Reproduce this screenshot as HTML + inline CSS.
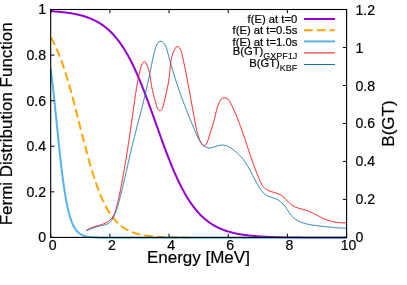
<!DOCTYPE html>
<html><head><meta charset="utf-8"><style>
html,body{margin:0;padding:0;background:#fff;}
svg{display:block;will-change:transform;font-family:"Liberation Sans",sans-serif;fill:#000;}
path{fill:none;stroke-linejoin:round;}
text{stroke:#000;stroke-width:0.2px;}
</style></head><body>
<svg width="407" height="285" viewBox="0 0 407 285">
<rect width="407" height="285" fill="#fff"/>
<path d="M50.70,11.15 L51.44,11.20 L52.18,11.25 L52.92,11.30 L53.67,11.35 L54.41,11.40 L55.15,11.46 L55.89,11.52 L56.63,11.58 L57.37,11.64 L58.12,11.70 L58.86,11.77 L59.60,11.84 L60.34,11.91 L61.08,11.99 L61.82,12.06 L62.57,12.14 L63.31,12.22 L64.05,12.31 L64.79,12.40 L65.53,12.49 L66.27,12.59 L67.02,12.69 L67.76,12.79 L68.50,12.89 L69.24,13.00 L69.98,13.12 L70.72,13.24 L71.46,13.36 L72.21,13.49 L72.95,13.62 L73.69,13.75 L74.43,13.89 L75.17,14.04 L75.91,14.19 L76.66,14.35 L77.40,14.51 L78.14,14.68 L78.88,14.85 L79.62,15.03 L80.36,15.22 L81.11,15.41 L81.85,15.62 L82.59,15.82 L83.33,16.04 L84.07,16.26 L84.81,16.49 L85.56,16.73 L86.30,16.97 L87.04,17.23 L87.78,17.49 L88.52,17.77 L89.26,18.05 L90.01,18.34 L90.75,18.64 L91.49,18.96 L92.23,19.28 L92.97,19.62 L93.71,19.96 L94.45,20.32 L95.20,20.69 L95.94,21.07 L96.68,21.47 L97.42,21.88 L98.16,22.30 L98.90,22.73 L99.65,23.18 L100.39,23.65 L101.13,24.13 L101.87,24.63 L102.61,25.14 L103.35,25.67 L104.10,26.21 L104.84,26.77 L105.58,27.36 L106.32,27.95 L107.06,28.57 L107.80,29.21 L108.55,29.87 L109.29,30.54 L110.03,31.24 L110.77,31.96 L111.51,32.70 L112.25,33.46 L112.99,34.24 L113.74,35.05 L114.48,35.88 L115.22,36.73 L115.96,37.61 L116.70,38.52 L117.44,39.44 L118.19,40.40 L118.93,41.38 L119.67,42.38 L120.41,43.42 L121.15,44.48 L121.89,45.56 L122.64,46.68 L123.38,47.82 L124.12,48.99 L124.86,50.19 L125.60,51.42 L126.34,52.67 L127.09,53.96 L127.83,55.27 L128.57,56.62 L129.31,57.99 L130.05,59.40 L130.79,60.83 L131.53,62.29 L132.28,63.78 L133.02,65.30 L133.76,66.85 L134.50,68.43 L135.24,70.03 L135.98,71.66 L136.73,73.33 L137.47,75.01 L138.21,76.73 L138.95,78.47 L139.69,80.24 L140.43,82.03 L141.18,83.84 L141.92,85.68 L142.66,87.54 L143.40,89.43 L144.14,91.33 L144.88,93.26 L145.63,95.20 L146.37,97.16 L147.11,99.14 L147.85,101.14 L148.59,103.14 L149.33,105.17 L150.07,107.20 L150.82,109.25 L151.56,111.30 L152.30,113.37 L153.04,115.44 L153.78,117.51 L154.52,119.59 L155.27,121.67 L156.01,123.76 L156.75,125.84 L157.49,127.93 L158.23,130.01 L158.97,132.08 L159.72,134.15 L160.46,136.22 L161.20,138.27 L161.94,140.32 L162.68,142.35 L163.42,144.38 L164.17,146.39 L164.91,148.38 L165.65,150.36 L166.39,152.33 L167.13,154.27 L167.87,156.20 L168.62,158.10 L169.36,159.99 L170.10,161.85 L170.84,163.70 L171.58,165.51 L172.32,167.31 L173.06,169.08 L173.81,170.82 L174.55,172.54 L175.29,174.23 L176.03,175.89 L176.77,177.53 L177.51,179.13 L178.26,180.71 L179.00,182.27 L179.74,183.79 L180.48,185.28 L181.22,186.75 L181.96,188.18 L182.71,189.59 L183.45,190.96 L184.19,192.31 L184.93,193.63 L185.67,194.91 L186.41,196.17 L187.16,197.40 L187.90,198.61 L188.64,199.78 L189.38,200.92 L190.12,202.04 L190.86,203.13 L191.60,204.19 L192.35,205.23 L193.09,206.24 L193.83,207.22 L194.57,208.17 L195.31,209.10 L196.05,210.01 L196.80,210.89 L197.54,211.75 L198.28,212.58 L199.02,213.39 L199.76,214.17 L200.50,214.94 L201.25,215.68 L201.99,216.40 L202.73,217.10 L203.47,217.78 L204.21,218.43 L204.95,219.07 L205.70,219.69 L206.44,220.29 L207.18,220.88 L207.92,221.44 L208.66,221.99 L209.40,222.52 L210.14,223.03 L210.89,223.53 L211.63,224.01 L212.37,224.48 L213.11,224.93 L213.85,225.36 L214.59,225.79 L215.34,226.20 L216.08,226.59 L216.82,226.98 L217.56,227.35 L218.30,227.71 L219.04,228.05 L219.79,228.39 L220.53,228.71 L221.27,229.03 L222.01,229.33 L222.75,229.62 L223.49,229.91 L224.24,230.18 L224.98,230.45 L225.72,230.70 L226.46,230.95 L227.20,231.19 L227.94,231.42 L228.68,231.64 L229.43,231.86 L230.17,232.07 L230.91,232.27 L231.65,232.46 L232.39,232.65 L233.13,232.83 L233.88,233.01 L234.62,233.17 L235.36,233.34 L236.10,233.49 L236.84,233.65 L237.58,233.79 L238.33,233.93 L239.07,234.07 L239.81,234.20 L240.55,234.33 L241.29,234.45 L242.03,234.57 L242.78,234.69 L243.52,234.80 L244.26,234.90 L245.00,235.01 L245.74,235.10 L246.48,235.20 L247.23,235.29 L247.97,235.38 L248.71,235.47 L249.45,235.55 L250.19,235.63 L250.93,235.71 L251.67,235.78 L252.42,235.85 L253.16,235.92 L253.90,235.99 L254.64,236.06 L255.38,236.12 L256.12,236.18 L256.87,236.24 L257.61,236.29 L258.35,236.35 L259.09,236.40 L259.83,236.45 L260.57,236.50 L261.32,236.54 L262.06,236.59 L262.80,236.63 L263.54,236.67 L264.28,236.71 L265.02,236.75 L265.77,236.79 L266.51,236.83 L267.25,236.86 L267.99,236.89 L268.73,236.93 L269.47,236.96 L270.21,236.99 L270.96,237.02 L271.70,237.04 L272.44,237.07 L273.18,237.10 L273.92,237.12 L274.66,237.15 L275.41,237.17 L276.15,237.19 L276.89,237.21 L277.63,237.24 L278.37,237.26 L279.11,237.28 L279.86,237.29 L280.60,237.31 L281.34,237.33 L282.08,237.35 L282.82,237.36 L283.56,237.38 L284.31,237.39 L285.05,237.41 L285.79,237.42 L286.53,237.44 L287.27,237.45 L288.01,237.46 L288.75,237.47 L289.50,237.49 L290.24,237.50 L290.98,237.51 L291.72,237.52 L292.46,237.53 L293.20,237.54 L293.95,237.55 L294.69,237.56 L295.43,237.57 L296.17,237.57 L296.91,237.58 L297.65,237.59 L298.40,237.60 L299.14,237.60 L299.88,237.61 L300.62,237.62 L301.36,237.62 L302.10,237.63 L302.85,237.64 L303.59,237.64 L304.33,237.65 L305.07,237.65 L305.81,237.66 L306.55,237.66 L307.29,237.67 L308.04,237.67 L308.78,237.68 L309.52,237.68 L310.26,237.69 L311.00,237.69 L311.74,237.69 L312.49,237.70 L313.23,237.70 L313.97,237.71 L314.71,237.71 L315.45,237.71 L316.19,237.72 L316.94,237.72 L317.68,237.72 L318.42,237.72 L319.16,237.73 L319.90,237.73 L320.64,237.73 L321.39,237.73 L322.13,237.74 L322.87,237.74 L323.61,237.74 L324.35,237.74 L325.09,237.75 L325.84,237.75 L326.58,237.75 L327.32,237.75 L328.06,237.75 L328.80,237.75 L329.54,237.76 L330.28,237.76 L331.03,237.76 L331.77,237.76 L332.51,237.76 L333.25,237.76 L333.99,237.76 L334.73,237.77 L335.48,237.77 L336.22,237.77 L336.96,237.77 L337.70,237.77 L338.44,237.77 L339.18,237.77 L339.93,237.77 L340.67,237.77 L341.41,237.78 L342.15,237.78 L342.89,237.78 L343.63,237.78 L344.38,237.78 L345.12,237.78 L345.86,237.78 L346.60,237.78" stroke="#9400d3" stroke-width="2"/>
<path d="M50.70,37.26 L51.44,38.53 L52.18,39.84 L52.92,41.20 L53.67,42.62 L54.41,44.09 L55.15,45.61 L55.89,47.19 L56.63,48.82 L57.37,50.51 L58.12,52.26 L58.86,54.06 L59.60,55.92 L60.34,57.84 L61.08,59.82 L61.82,61.85 L62.57,63.95 L63.31,66.10 L64.05,68.30 L64.79,70.57 L65.53,72.89 L66.27,75.26 L67.02,77.68 L67.76,80.16 L68.50,82.68 L69.24,85.26 L69.98,87.88 L70.72,90.54 L71.46,93.24 L72.21,95.98 L72.95,98.75 L73.69,101.56 L74.43,104.39 L75.17,107.25 L75.91,110.13 L76.66,113.03 L77.40,115.94 L78.14,118.86 L78.88,121.79 L79.62,124.72 L80.36,127.65 L81.11,130.58 L81.85,133.49 L82.59,136.40 L83.33,139.29 L84.07,142.15 L84.81,145.00 L85.56,147.81 L86.30,150.60 L87.04,153.35 L87.78,156.07 L88.52,158.75 L89.26,161.39 L90.01,163.98 L90.75,166.52 L91.49,169.02 L92.23,171.46 L92.97,173.86 L93.71,176.20 L94.45,178.48 L95.20,180.71 L95.94,182.89 L96.68,185.00 L97.42,187.06 L98.16,189.06 L98.90,191.01 L99.65,192.89 L100.39,194.72 L101.13,196.49 L101.87,198.20 L102.61,199.85 L103.35,201.45 L104.10,203.00 L104.84,204.49 L105.58,205.93 L106.32,207.31 L107.06,208.65 L107.80,209.93 L108.55,211.16 L109.29,212.35 L110.03,213.49 L110.77,214.59 L111.51,215.64 L112.25,216.65 L112.99,217.61 L113.74,218.54 L114.48,219.43 L115.22,220.28 L115.96,221.09 L116.70,221.87 L117.44,222.62 L118.19,223.33 L118.93,224.01 L119.67,224.67 L120.41,225.29 L121.15,225.88 L121.89,226.45 L122.64,226.99 L123.38,227.51 L124.12,228.00 L124.86,228.48 L125.60,228.93 L126.34,229.35 L127.09,229.76 L127.83,230.15 L128.57,230.52 L129.31,230.88 L130.05,231.22 L130.79,231.54 L131.53,231.84 L132.28,232.13 L133.02,232.41 L133.76,232.68 L134.50,232.93 L135.24,233.17 L135.98,233.39 L136.73,233.61 L137.47,233.82 L138.21,234.01 L138.95,234.20 L139.69,234.38 L140.43,234.55 L141.18,234.71 L141.92,234.86 L142.66,235.01 L143.40,235.15 L144.14,235.28 L144.88,235.40 L145.63,235.52 L146.37,235.64 L147.11,235.74 L147.85,235.85 L148.59,235.94 L149.33,236.03 L150.07,236.12 L150.82,236.21 L151.56,236.29 L152.30,236.36 L153.04,236.43 L153.78,236.50 L154.52,236.57 L155.27,236.63 L156.01,236.69 L156.75,236.74 L157.49,236.79 L158.23,236.84 L158.97,236.89 L159.72,236.94 L160.46,236.98 L161.20,237.02 L161.94,237.06 L162.68,237.10 L163.42,237.13 L164.17,237.17 L164.91,237.20 L165.65,237.23 L166.39,237.26 L167.13,237.28 L167.87,237.31 L168.62,237.33 L169.36,237.36 L170.10,237.38 L170.84,237.40 L171.58,237.42 L172.32,237.44 L173.06,237.46 L173.81,237.47 L174.55,237.49 L175.29,237.51 L176.03,237.52 L176.77,237.54 L177.51,237.55 L178.26,237.56 L179.00,237.57 L179.74,237.58 L180.48,237.60 L181.22,237.61 L181.96,237.62 L182.71,237.62 L183.45,237.63 L184.19,237.64 L184.93,237.65 L185.67,237.66 L186.41,237.66 L187.16,237.67 L187.90,237.68 L188.64,237.68 L189.38,237.69" stroke="#ffa500" stroke-width="2" stroke-dasharray="8.7 4.0"/>
<path d="M50.70,68.92 L51.44,74.71 L52.18,80.84 L52.92,87.26 L53.67,93.96 L54.41,100.89 L55.15,107.99 L55.89,115.23 L56.63,122.54 L57.37,129.85 L58.12,137.12 L58.86,144.28 L59.60,151.28 L60.34,158.06 L61.08,164.59 L61.82,170.82 L62.57,176.74 L63.31,182.31 L64.05,187.53 L64.79,192.38 L65.53,196.88 L66.27,201.01 L67.02,204.81 L67.76,208.27 L68.50,211.42 L69.24,214.27 L69.98,216.85 L70.72,219.17 L71.46,221.26 L72.21,223.12 L72.95,224.79 L73.69,226.28 L74.43,227.61 L75.17,228.79 L75.91,229.84 L76.66,230.77 L77.40,231.59 L78.14,232.32 L78.88,232.97 L79.62,233.54 L80.36,234.05 L81.11,234.49 L81.85,234.89 L82.59,235.23 L83.33,235.54 L84.07,235.81 L84.81,236.05 L85.56,236.26 L86.30,236.44 L87.04,236.61 L87.78,236.75 L88.52,236.88 L89.26,236.99 L90.01,237.08 L90.75,237.17 L91.49,237.25 L92.23,237.31 L92.97,237.37 L93.71,237.42 L94.45,237.47 L95.20,237.51 L95.94,237.54 L96.68,237.57 L97.42,237.60 L98.16,237.63 L98.90,237.65 L99.65,237.67 L100.39,237.68 L101.13,237.70 L101.87,237.71 L102.61,237.72 L103.35,237.73 L104.10,237.74 L104.84,237.75 L105.58,237.75 L106.32,237.76 L107.06,237.76 L107.80,237.77 L108.55,237.77 L109.29,237.77 L110.03,237.78 L110.77,237.78 L111.51,237.78 L112.25,237.78 L112.99,237.79 L113.74,237.79 L114.48,237.79 L115.22,237.79 L115.96,237.79 L116.70,237.79 L117.44,237.79 L118.19,237.79 L118.93,237.80 L119.67,237.80 L120.41,237.80 L121.15,237.80 L121.89,237.80 L122.64,237.80 L123.38,237.80 L124.12,237.80 L124.86,237.80 L125.60,237.80 L126.34,237.80 L127.09,237.80 L127.83,237.80 L128.57,237.80 L129.31,237.80 L130.05,237.80 L130.79,237.80 L131.53,237.80 L132.28,237.80 L133.02,237.80 L133.76,237.80 L134.50,237.80 L135.24,237.80 L135.98,237.80 L136.73,237.80 L137.47,237.80 L138.21,237.80 L138.95,237.80 L139.69,237.80 L140.43,237.80 L141.18,237.80 L141.92,237.80 L142.66,237.80 L143.40,237.80 L144.14,237.80 L144.88,237.80 L145.63,237.80 L146.37,237.80 L147.11,237.80 L147.85,237.80 L148.59,237.80 L149.33,237.80 L150.07,237.80 L150.82,237.80 L151.56,237.80 L152.30,237.80 L153.04,237.80 L153.78,237.80 L154.52,237.80 L155.27,237.80 L156.01,237.80 L156.75,237.80 L157.49,237.80 L158.23,237.80 L158.97,237.80 L159.72,237.80 L160.46,237.80 L161.20,237.80 L161.94,237.80 L162.68,237.80 L163.42,237.80 L164.17,237.80 L164.91,237.80 L165.65,237.80 L166.39,237.80 L167.13,237.80 L167.87,237.80 L168.62,237.80 L169.36,237.80 L170.10,237.80 L170.84,237.80 L171.58,237.80 L172.32,237.80 L173.06,237.80 L173.81,237.80 L174.55,237.80 L175.29,237.80 L176.03,237.80 L176.77,237.80 L177.51,237.80 L178.26,237.80 L179.00,237.80 L179.74,237.80 L180.48,237.80 L181.22,237.80 L181.96,237.80 L182.71,237.80 L183.45,237.80 L184.19,237.80 L184.93,237.80 L185.67,237.80 L186.41,237.80 L187.16,237.80 L187.90,237.80 L188.64,237.80 L189.38,237.80 L190.12,237.80 L190.86,237.80 L191.60,237.80 L192.35,237.80 L193.09,237.80 L193.83,237.80 L194.57,237.80 L195.31,237.80 L196.05,237.80 L196.80,237.80 L197.54,237.80 L198.28,237.80 L199.02,237.80 L199.76,237.80 L200.50,237.80 L201.25,237.80 L201.99,237.80 L202.73,237.80 L203.47,237.80 L204.21,237.80 L204.95,237.80 L205.70,237.80 L206.44,237.80 L207.18,237.80 L207.92,237.80 L208.66,237.80 L209.40,237.80 L210.14,237.80 L210.89,237.80 L211.63,237.80 L212.37,237.80 L213.11,237.80 L213.85,237.80 L214.59,237.80 L215.34,237.80 L216.08,237.80 L216.82,237.80 L217.56,237.80 L218.30,237.80 L219.04,237.80 L219.79,237.80 L220.53,237.80 L221.27,237.80 L222.01,237.80 L222.75,237.80 L223.49,237.80 L224.24,237.80 L224.98,237.80 L225.72,237.80 L226.46,237.80 L227.20,237.80 L227.94,237.80 L228.68,237.80 L229.43,237.80 L230.17,237.80 L230.91,237.80 L231.65,237.80 L232.39,237.80 L233.13,237.80 L233.88,237.80 L234.62,237.80 L235.36,237.80 L236.10,237.80 L236.84,237.80 L237.58,237.80 L238.33,237.80 L239.07,237.80 L239.81,237.80 L240.55,237.80 L241.29,237.80 L242.03,237.80 L242.78,237.80 L243.52,237.80 L244.26,237.80 L245.00,237.80 L245.74,237.80 L246.48,237.80 L247.23,237.80 L247.97,237.80 L248.71,237.80 L249.45,237.80 L250.19,237.80 L250.93,237.80 L251.67,237.80 L252.42,237.80 L253.16,237.80 L253.90,237.80 L254.64,237.80 L255.38,237.80 L256.12,237.80 L256.87,237.80 L257.61,237.80 L258.35,237.80 L259.09,237.80 L259.83,237.80 L260.57,237.80 L261.32,237.80 L262.06,237.80 L262.80,237.80 L263.54,237.80 L264.28,237.80 L265.02,237.80 L265.77,237.80 L266.51,237.80 L267.25,237.80 L267.99,237.80 L268.73,237.80 L269.47,237.80 L270.21,237.80 L270.96,237.80 L271.70,237.80 L272.44,237.80 L273.18,237.80 L273.92,237.80 L274.66,237.80 L275.41,237.80 L276.15,237.80 L276.89,237.80 L277.63,237.80 L278.37,237.80 L279.11,237.80 L279.86,237.80 L280.60,237.80 L281.34,237.80 L282.08,237.80 L282.82,237.80 L283.56,237.80 L284.31,237.80 L285.05,237.80 L285.79,237.80 L286.53,237.80 L287.27,237.80 L288.01,237.80 L288.75,237.80 L289.50,237.80 L290.24,237.80 L290.98,237.80 L291.72,237.80 L292.46,237.80 L293.20,237.80 L293.95,237.80 L294.69,237.80 L295.43,237.80 L296.17,237.80 L296.91,237.80 L297.65,237.80 L298.40,237.80 L299.14,237.80 L299.88,237.80 L300.62,237.80 L301.36,237.80 L302.10,237.80 L302.85,237.80 L303.59,237.80 L304.33,237.80 L305.07,237.80 L305.81,237.80 L306.55,237.80 L307.29,237.80 L308.04,237.80 L308.78,237.80 L309.52,237.80 L310.26,237.80 L311.00,237.80 L311.74,237.80 L312.49,237.80 L313.23,237.80 L313.97,237.80 L314.71,237.80 L315.45,237.80 L316.19,237.80 L316.94,237.80 L317.68,237.80 L318.42,237.80 L319.16,237.80 L319.90,237.80 L320.64,237.80 L321.39,237.80 L322.13,237.80 L322.87,237.80 L323.61,237.80 L324.35,237.80 L325.09,237.80 L325.84,237.80 L326.58,237.80 L327.32,237.80 L328.06,237.80 L328.80,237.80 L329.54,237.80 L330.28,237.80 L331.03,237.80 L331.77,237.80 L332.51,237.80 L333.25,237.80 L333.99,237.80 L334.73,237.80 L335.48,237.80 L336.22,237.80 L336.96,237.80 L337.70,237.80 L338.44,237.80 L339.18,237.80 L339.93,237.80 L340.67,237.80 L341.41,237.80 L342.15,237.80 L342.89,237.80 L343.63,237.80 L344.38,237.80 L345.12,237.80 L345.86,237.80 L346.60,237.80" stroke="#56b4e9" stroke-width="2"/>
<path d="M86.21,230.46 L86.85,230.03 L87.50,229.62 L88.15,229.25 L88.81,228.89 L89.47,228.57 L90.13,228.26 L90.80,227.97 L91.48,227.70 L92.16,227.45 L92.84,227.21 L93.52,226.98 L94.21,226.76 L94.91,226.55 L95.60,226.34 L96.30,226.14 L97.01,225.94 L97.72,225.74 L98.43,225.54 L99.14,225.34 L99.85,225.13 L100.57,224.91 L101.29,224.69 L102.00,224.45 L102.71,224.21 L103.42,223.95 L104.11,223.68 L104.80,223.40 L105.47,223.10 L106.14,222.78 L106.79,222.45 L107.42,222.09 L108.03,221.72 L108.62,221.32 L109.19,220.91 L109.74,220.47 L110.26,220.00 L110.76,219.51 L111.23,218.99 L111.67,218.45 L112.10,217.89 L112.50,217.31 L112.87,216.70 L113.23,216.08 L113.57,215.45 L113.90,214.80 L114.20,214.13 L114.49,213.45 L114.77,212.76 L115.03,212.06 L115.28,211.35 L115.52,210.63 L115.75,209.91 L115.97,209.18 L116.18,208.44 L116.38,207.71 L116.58,206.97 L116.77,206.23 L116.96,205.49 L117.15,204.76 L117.33,204.02 L117.51,203.29 L117.69,202.56 L117.86,201.83 L118.04,201.10 L118.21,200.38 L118.37,199.65 L118.54,198.93 L118.70,198.21 L118.86,197.49 L119.02,196.77 L119.18,196.05 L119.34,195.33 L119.49,194.61 L119.64,193.90 L119.79,193.18 L119.94,192.47 L120.09,191.75 L120.23,191.04 L120.38,190.32 L120.52,189.61 L120.67,188.89 L120.81,188.18 L120.95,187.46 L121.09,186.75 L121.23,186.04 L121.36,185.32 L121.50,184.60 L121.64,183.89 L121.78,183.17 L121.91,182.46 L122.05,181.74 L122.18,181.02 L122.31,180.30 L122.45,179.59 L122.58,178.87 L122.71,178.15 L122.84,177.43 L122.98,176.71 L123.11,175.99 L123.24,175.27 L123.37,174.55 L123.49,173.83 L123.62,173.11 L123.75,172.38 L123.88,171.66 L124.00,170.94 L124.13,170.22 L124.26,169.49 L124.38,168.77 L124.51,168.05 L124.63,167.32 L124.75,166.60 L124.88,165.88 L125.00,165.15 L125.12,164.43 L125.24,163.70 L125.36,162.98 L125.49,162.25 L125.61,161.53 L125.73,160.80 L125.85,160.07 L125.96,159.35 L126.08,158.62 L126.20,157.89 L126.32,157.17 L126.44,156.44 L126.55,155.71 L126.67,154.99 L126.79,154.26 L126.90,153.53 L127.02,152.80 L127.13,152.07 L127.25,151.35 L127.36,150.62 L127.47,149.89 L127.59,149.16 L127.70,148.43 L127.81,147.70 L127.93,146.97 L128.04,146.24 L128.15,145.51 L128.26,144.79 L128.37,144.06 L128.48,143.33 L128.59,142.60 L128.70,141.87 L128.81,141.14 L128.92,140.41 L129.03,139.68 L129.14,138.95 L129.25,138.22 L129.36,137.49 L129.47,136.76 L129.58,136.03 L129.68,135.30 L129.79,134.57 L129.90,133.84 L130.01,133.11 L130.11,132.38 L130.22,131.65 L130.33,130.92 L130.43,130.19 L130.54,129.45 L130.64,128.72 L130.75,127.99 L130.85,127.26 L130.96,126.53 L131.06,125.80 L131.17,125.07 L131.27,124.34 L131.38,123.61 L131.48,122.88 L131.59,122.16 L131.69,121.43 L131.79,120.70 L131.90,119.97 L132.00,119.24 L132.10,118.51 L132.21,117.78 L132.31,117.05 L132.41,116.32 L132.52,115.59 L132.62,114.86 L132.72,114.14 L132.82,113.41 L132.93,112.68 L133.03,111.95 L133.13,111.22 L133.23,110.50 L133.34,109.77 L133.44,109.04 L133.54,108.31 L133.64,107.59 L133.74,106.86 L133.85,106.13 L133.95,105.41 L134.05,104.68 L134.15,103.95 L134.25,103.23 L134.36,102.50 L134.46,101.78 L134.56,101.05 L134.66,100.33 L134.77,99.60 L134.87,98.88 L134.97,98.15 L135.08,97.43 L135.18,96.71 L135.29,95.98 L135.40,95.26 L135.50,94.53 L135.61,93.81 L135.72,93.09 L135.83,92.36 L135.94,91.64 L136.05,90.92 L136.17,90.19 L136.28,89.47 L136.40,88.75 L136.52,88.02 L136.64,87.30 L136.76,86.58 L136.88,85.85 L137.01,85.13 L137.13,84.41 L137.26,83.68 L137.39,82.96 L137.52,82.24 L137.66,81.51 L137.79,80.79 L137.93,80.06 L138.07,79.34 L138.22,78.62 L138.36,77.89 L138.51,77.17 L138.66,76.44 L138.82,75.72 L138.97,74.99 L139.13,74.27 L139.29,73.54 L139.46,72.82 L139.63,72.09 L139.80,71.37 L139.97,70.64 L140.15,69.91 L140.33,69.19 L140.52,68.46 L140.70,67.73 L140.90,67.01 L141.12,66.29 L141.37,65.58 L141.66,64.88 L142.00,64.19 L142.40,63.53 L142.87,62.88 L143.39,62.30 L143.94,61.86 L144.47,61.64 L144.96,61.72 L145.39,62.07 L145.78,62.59 L146.14,63.23 L146.48,63.89 L146.80,64.56 L147.10,65.24 L147.38,65.92 L147.65,66.61 L147.90,67.30 L148.14,68.00 L148.36,68.70 L148.57,69.41 L148.77,70.13 L148.96,70.84 L149.13,71.56 L149.30,72.29 L149.46,73.01 L149.61,73.74 L149.75,74.48 L149.88,75.21 L150.01,75.94 L150.13,76.68 L150.25,77.42 L150.36,78.16 L150.48,78.89 L150.59,79.63 L150.70,80.37 L150.80,81.11 L150.91,81.84 L151.02,82.57 L151.13,83.31 L151.25,84.04 L151.36,84.76 L151.49,85.49 L151.61,86.21 L151.75,86.93 L151.89,87.64 L152.03,88.35 L152.18,89.06 L152.33,89.77 L152.49,90.47 L152.66,91.18 L152.82,91.88 L153.00,92.58 L153.17,93.28 L153.35,93.98 L153.53,94.68 L153.72,95.39 L153.91,96.09 L154.09,96.79 L154.29,97.50 L154.48,98.21 L154.67,98.92 L154.87,99.64 L155.07,100.36 L155.26,101.08 L155.46,101.80 L155.66,102.54 L155.86,103.27 L156.05,104.01 L156.25,104.76 L156.45,105.51 L156.66,106.26 L156.88,107.00 L157.14,107.71 L157.45,108.39 L157.80,109.04 L158.23,109.63 L158.71,110.14 L159.24,110.51 L159.81,110.68 L160.38,110.60 L160.93,110.30 L161.45,109.83 L161.91,109.27 L162.30,108.65 L162.61,107.99 L162.87,107.30 L163.09,106.58 L163.29,105.85 L163.46,105.11 L163.63,104.36 L163.80,103.62 L163.97,102.88 L164.14,102.15 L164.31,101.41 L164.48,100.68 L164.65,99.95 L164.83,99.23 L165.00,98.50 L165.17,97.77 L165.34,97.05 L165.51,96.33 L165.68,95.61 L165.85,94.89 L166.01,94.17 L166.18,93.45 L166.34,92.74 L166.51,92.02 L166.67,91.31 L166.82,90.59 L166.98,89.88 L167.14,89.16 L167.29,88.45 L167.44,87.74 L167.58,87.02 L167.73,86.31 L167.87,85.59 L168.01,84.88 L168.14,84.16 L168.27,83.45 L168.40,82.73 L168.52,82.01 L168.64,81.29 L168.76,80.57 L168.87,79.85 L168.98,79.13 L169.08,78.41 L169.18,77.68 L169.27,76.95 L169.36,76.23 L169.44,75.49 L169.52,74.76 L169.59,74.03 L169.66,73.29 L169.73,72.56 L169.79,71.82 L169.86,71.08 L169.92,70.35 L169.99,69.61 L170.05,68.87 L170.12,68.13 L170.18,67.39 L170.25,66.66 L170.33,65.92 L170.40,65.19 L170.49,64.45 L170.57,63.72 L170.67,62.99 L170.77,62.26 L170.87,61.54 L170.99,60.82 L171.12,60.10 L171.25,59.38 L171.39,58.66 L171.55,57.95 L171.71,57.25 L171.89,56.54 L172.08,55.84 L172.29,55.15 L172.51,54.46 L172.74,53.77 L173.00,53.08 L173.27,52.39 L173.56,51.69 L173.88,50.99 L174.21,50.28 L174.58,49.56 L174.97,48.83 L175.39,48.12 L175.84,47.47 L176.31,46.94 L176.82,46.60 L177.36,46.48 L177.92,46.63 L178.49,46.99 L179.05,47.51 L179.57,48.13 L180.03,48.79 L180.42,49.46 L180.76,50.15 L181.05,50.84 L181.30,51.54 L181.51,52.25 L181.71,52.96 L181.88,53.67 L182.04,54.39 L182.21,55.10 L182.37,55.82 L182.53,56.54 L182.69,57.26 L182.85,57.97 L183.01,58.69 L183.17,59.41 L183.32,60.13 L183.48,60.85 L183.63,61.57 L183.79,62.29 L183.94,63.01 L184.09,63.73 L184.24,64.45 L184.39,65.17 L184.54,65.89 L184.69,66.61 L184.84,67.33 L184.99,68.06 L185.14,68.78 L185.28,69.50 L185.43,70.22 L185.57,70.94 L185.72,71.67 L185.86,72.39 L186.00,73.11 L186.14,73.83 L186.29,74.56 L186.43,75.28 L186.57,76.00 L186.71,76.73 L186.85,77.45 L186.99,78.17 L187.12,78.90 L187.26,79.62 L187.40,80.34 L187.54,81.07 L187.67,81.79 L187.81,82.52 L187.95,83.24 L188.08,83.96 L188.22,84.69 L188.35,85.41 L188.48,86.13 L188.62,86.86 L188.75,87.58 L188.89,88.31 L189.02,89.03 L189.15,89.75 L189.28,90.48 L189.42,91.20 L189.55,91.92 L189.68,92.65 L189.81,93.37 L189.94,94.09 L190.07,94.82 L190.21,95.54 L190.34,96.26 L190.47,96.98 L190.60,97.71 L190.73,98.43 L190.86,99.15 L190.99,99.87 L191.12,100.59 L191.25,101.31 L191.38,102.04 L191.51,102.76 L191.64,103.48 L191.77,104.20 L191.91,104.92 L192.04,105.64 L192.17,106.36 L192.30,107.08 L192.43,107.80 L192.56,108.52 L192.69,109.25 L192.83,109.97 L192.96,110.69 L193.09,111.41 L193.22,112.13 L193.36,112.85 L193.49,113.58 L193.62,114.30 L193.76,115.02 L193.89,115.74 L194.03,116.47 L194.16,117.19 L194.30,117.91 L194.43,118.64 L194.57,119.36 L194.71,120.09 L194.84,120.81 L194.98,121.54 L195.12,122.27 L195.26,122.99 L195.40,123.72 L195.54,124.45 L195.68,125.18 L195.82,125.91 L195.97,126.64 L196.11,127.36 L196.26,128.09 L196.41,128.82 L196.56,129.55 L196.72,130.28 L196.88,131.00 L197.05,131.72 L197.23,132.44 L197.41,133.16 L197.60,133.88 L197.80,134.59 L198.01,135.29 L198.23,136.00 L198.46,136.70 L198.71,137.39 L198.96,138.08 L199.23,138.76 L199.51,139.44 L199.80,140.11 L200.11,140.77 L200.43,141.43 L200.78,142.08 L201.13,142.72 L201.51,143.35 L201.90,143.98 L202.32,144.59 L202.75,145.18 L203.21,145.67 L203.70,145.96 L204.23,145.95 L204.78,145.67 L205.33,145.17 L205.85,144.55 L206.32,143.88 L206.73,143.20 L207.08,142.51 L207.39,141.81 L207.66,141.12 L207.91,140.41 L208.14,139.71 L208.36,139.00 L208.58,138.30 L208.80,137.59 L209.03,136.88 L209.25,136.18 L209.47,135.47 L209.70,134.76 L209.92,134.06 L210.14,133.35 L210.37,132.64 L210.59,131.94 L210.81,131.23 L211.03,130.52 L211.25,129.82 L211.47,129.11 L211.69,128.40 L211.91,127.70 L212.13,126.99 L212.34,126.28 L212.55,125.58 L212.76,124.87 L212.97,124.16 L213.18,123.46 L213.38,122.75 L213.58,122.05 L213.78,121.34 L213.98,120.63 L214.17,119.93 L214.36,119.22 L214.55,118.52 L214.73,117.82 L214.91,117.11 L215.08,116.41 L215.25,115.70 L215.42,115.00 L215.59,114.30 L215.75,113.59 L215.91,112.89 L216.07,112.19 L216.24,111.48 L216.41,110.78 L216.58,110.08 L216.77,109.37 L216.96,108.67 L217.16,107.96 L217.37,107.25 L217.59,106.55 L217.83,105.84 L218.08,105.13 L218.35,104.42 L218.64,103.71 L218.95,103.00 L219.28,102.28 L219.63,101.57 L220.01,100.85 L220.42,100.17 L220.86,99.54 L221.35,98.98 L221.89,98.52 L222.49,98.18 L223.13,97.96 L223.80,97.84 L224.48,97.83 L225.17,97.91 L225.85,98.08 L226.51,98.34 L227.14,98.67 L227.72,99.07 L228.25,99.54 L228.73,100.07 L229.16,100.64 L229.56,101.24 L229.93,101.88 L230.29,102.53 L230.63,103.20 L230.97,103.86 L231.30,104.53 L231.63,105.20 L231.96,105.87 L232.29,106.54 L232.61,107.21 L232.92,107.88 L233.24,108.56 L233.55,109.23 L233.86,109.91 L234.16,110.59 L234.47,111.27 L234.77,111.94 L235.06,112.63 L235.36,113.31 L235.65,113.99 L235.94,114.67 L236.22,115.36 L236.51,116.04 L236.79,116.72 L237.07,117.41 L237.34,118.10 L237.62,118.79 L237.89,119.47 L238.16,120.16 L238.42,120.85 L238.69,121.54 L238.95,122.23 L239.21,122.92 L239.47,123.61 L239.73,124.31 L239.99,125.00 L240.24,125.69 L240.49,126.38 L240.74,127.08 L240.99,127.77 L241.24,128.47 L241.49,129.16 L241.73,129.85 L241.98,130.55 L242.22,131.24 L242.46,131.94 L242.70,132.63 L242.94,133.33 L243.18,134.03 L243.42,134.72 L243.65,135.42 L243.89,136.11 L244.12,136.81 L244.36,137.50 L244.59,138.20 L244.83,138.89 L245.06,139.59 L245.29,140.28 L245.52,140.98 L245.75,141.67 L245.99,142.37 L246.22,143.06 L246.45,143.76 L246.68,144.45 L246.91,145.14 L247.14,145.83 L247.37,146.53 L247.60,147.22 L247.83,147.91 L248.07,148.60 L248.30,149.29 L248.53,149.98 L248.76,150.67 L249.00,151.36 L249.23,152.05 L249.47,152.73 L249.70,153.42 L249.94,154.11 L250.17,154.80 L250.41,155.48 L250.65,156.17 L250.89,156.86 L251.13,157.55 L251.37,158.23 L251.61,158.92 L251.85,159.61 L252.10,160.30 L252.34,160.98 L252.59,161.67 L252.83,162.36 L253.08,163.05 L253.33,163.74 L253.58,164.43 L253.83,165.12 L254.09,165.82 L254.34,166.51 L254.60,167.20 L254.85,167.90 L255.11,168.59 L255.37,169.29 L255.63,169.99 L255.90,170.69 L256.16,171.39 L256.43,172.09 L256.70,172.79 L256.97,173.49 L257.24,174.20 L257.51,174.91 L257.79,175.61 L258.07,176.32 L258.35,177.03 L258.63,177.74 L258.92,178.45 L259.21,179.15 L259.51,179.85 L259.82,180.55 L260.14,181.23 L260.46,181.91 L260.80,182.57 L261.15,183.22 L261.51,183.86 L261.88,184.49 L262.27,185.10 L262.67,185.69 L263.09,186.26 L263.53,186.81 L263.99,187.34 L264.47,187.85 L264.96,188.33 L265.48,188.78 L266.02,189.21 L266.59,189.61 L267.18,189.98 L267.79,190.31 L268.43,190.62 L269.09,190.90 L269.77,191.16 L270.46,191.40 L271.17,191.63 L271.89,191.84 L272.61,192.04 L273.35,192.25 L274.08,192.45 L274.81,192.65 L275.55,192.86 L276.27,193.07 L276.99,193.30 L277.70,193.55 L278.40,193.82 L279.08,194.11 L279.74,194.43 L280.38,194.78 L281.01,195.16 L281.61,195.56 L282.20,195.99 L282.77,196.45 L283.33,196.92 L283.88,197.41 L284.41,197.91 L284.94,198.42 L285.47,198.94 L285.98,199.47 L286.50,200.01 L287.01,200.54 L287.53,201.08 L288.04,201.61 L288.56,202.13 L289.09,202.65 L289.62,203.15 L290.16,203.64 L290.71,204.11 L291.27,204.57 L291.85,205.00 L292.44,205.41 L293.05,205.79 L293.67,206.15 L294.31,206.49 L294.96,206.80 L295.62,207.10 L296.29,207.38 L296.98,207.64 L297.67,207.89 L298.37,208.13 L299.08,208.36 L299.79,208.58 L300.51,208.79 L301.23,209.00 L301.96,209.20 L302.68,209.40 L303.41,209.61 L304.13,209.81 L304.86,210.02 L305.58,210.23 L306.29,210.46 L307.00,210.69 L307.71,210.93 L308.40,211.18 L309.09,211.45 L309.78,211.72 L310.45,212.01 L311.13,212.31 L311.79,212.61 L312.45,212.92 L313.11,213.24 L313.77,213.57 L314.42,213.90 L315.07,214.23 L315.72,214.57 L316.36,214.91 L317.01,215.25 L317.65,215.59 L318.30,215.93 L318.95,216.27 L319.59,216.60 L320.24,216.93 L320.90,217.26 L321.55,217.59 L322.21,217.90 L322.88,218.21 L323.55,218.51 L324.22,218.81 L324.90,219.09 L325.58,219.37 L326.27,219.63 L326.96,219.89 L327.65,220.14 L328.35,220.38 L329.06,220.61 L329.76,220.82 L330.47,221.03 L331.18,221.23 L331.90,221.42 L332.62,221.59 L333.34,221.76 L334.06,221.91 L334.78,222.06 L335.51,222.19 L336.24,222.31 L336.97,222.42 L337.70,222.51 L338.43,222.60 L339.16,222.67 L339.90,222.73 L340.63,222.77 L341.36,222.81 L342.10,222.83 L342.83,222.84 L343.56,222.83 L344.30,222.81 L345.03,222.78 L345.76,222.73 L346.49,222.67" stroke="#ff1010" stroke-width="1"/>
<path d="M86.18,230.91 L86.74,230.69 L87.28,230.46 L87.82,230.24 L88.36,230.02 L88.88,229.79 L89.41,229.57 L89.93,229.35 L90.44,229.13 L90.96,228.91 L91.47,228.70 L91.98,228.48 L92.49,228.27 L93.00,228.07 L93.51,227.87 L94.02,227.67 L94.54,227.48 L95.06,227.29 L95.58,227.11 L96.10,226.94 L96.63,226.77 L97.17,226.61 L97.71,226.45 L98.26,226.31 L98.82,226.17 L99.39,226.04 L99.96,225.92 L100.54,225.81 L101.13,225.70 L101.71,225.59 L102.30,225.48 L102.89,225.36 L103.47,225.24 L104.04,225.11 L104.61,224.97 L105.18,224.82 L105.73,224.66 L106.26,224.47 L106.79,224.27 L107.30,224.05 L107.78,223.80 L108.26,223.53 L108.71,223.23 L109.14,222.92 L109.56,222.58 L109.97,222.22 L110.36,221.85 L110.73,221.45 L111.09,221.04 L111.44,220.62 L111.77,220.18 L112.09,219.72 L112.40,219.26 L112.69,218.78 L112.98,218.29 L113.25,217.79 L113.52,217.28 L113.78,216.77 L114.03,216.24 L114.27,215.71 L114.50,215.18 L114.73,214.64 L114.95,214.10 L115.16,213.56 L115.37,213.02 L115.58,212.48 L115.78,211.93 L115.98,211.39 L116.17,210.85 L116.36,210.31 L116.55,209.77 L116.73,209.22 L116.91,208.68 L117.08,208.14 L117.25,207.60 L117.42,207.06 L117.59,206.52 L117.76,205.97 L117.92,205.43 L118.08,204.89 L118.23,204.35 L118.39,203.81 L118.54,203.26 L118.69,202.72 L118.84,202.18 L118.99,201.64 L119.14,201.09 L119.28,200.55 L119.43,200.01 L119.57,199.46 L119.71,198.92 L119.85,198.38 L120.00,197.83 L120.14,197.29 L120.28,196.74 L120.42,196.20 L120.56,195.65 L120.70,195.10 L120.83,194.56 L120.97,194.01 L121.11,193.46 L121.25,192.92 L121.38,192.37 L121.52,191.82 L121.65,191.27 L121.79,190.73 L121.92,190.18 L122.06,189.63 L122.19,189.08 L122.32,188.53 L122.46,187.98 L122.59,187.43 L122.72,186.88 L122.85,186.33 L122.99,185.78 L123.12,185.23 L123.25,184.68 L123.38,184.13 L123.51,183.58 L123.64,183.03 L123.77,182.48 L123.90,181.93 L124.02,181.38 L124.15,180.83 L124.28,180.27 L124.41,179.72 L124.54,179.17 L124.66,178.62 L124.79,178.07 L124.92,177.51 L125.05,176.96 L125.17,176.41 L125.30,175.86 L125.43,175.30 L125.55,174.75 L125.68,174.20 L125.80,173.65 L125.93,173.09 L126.06,172.54 L126.18,171.99 L126.31,171.43 L126.43,170.88 L126.56,170.33 L126.68,169.77 L126.81,169.22 L126.93,168.67 L127.06,168.11 L127.18,167.56 L127.31,167.00 L127.43,166.45 L127.56,165.90 L127.68,165.34 L127.81,164.79 L127.93,164.24 L128.06,163.68 L128.19,163.13 L128.31,162.57 L128.44,162.02 L128.56,161.47 L128.69,160.91 L128.81,160.36 L128.94,159.81 L129.07,159.25 L129.19,158.70 L129.32,158.15 L129.44,157.59 L129.57,157.04 L129.70,156.49 L129.83,155.93 L129.95,155.38 L130.08,154.83 L130.21,154.27 L130.34,153.72 L130.46,153.17 L130.59,152.62 L130.72,152.06 L130.85,151.51 L130.98,150.96 L131.11,150.41 L131.24,149.85 L131.37,149.30 L131.50,148.75 L131.63,148.20 L131.76,147.65 L131.89,147.10 L132.03,146.54 L132.16,145.99 L132.29,145.44 L132.42,144.89 L132.56,144.34 L132.69,143.79 L132.83,143.24 L132.96,142.69 L133.10,142.14 L133.23,141.59 L133.37,141.04 L133.50,140.49 L133.64,139.94 L133.78,139.39 L133.92,138.85 L134.05,138.30 L134.19,137.75 L134.33,137.20 L134.47,136.65 L134.61,136.10 L134.75,135.55 L134.89,135.01 L135.03,134.46 L135.17,133.91 L135.31,133.36 L135.45,132.82 L135.59,132.27 L135.73,131.72 L135.87,131.17 L136.01,130.63 L136.15,130.08 L136.29,129.53 L136.43,128.98 L136.58,128.44 L136.72,127.89 L136.86,127.34 L137.00,126.80 L137.15,126.25 L137.29,125.70 L137.43,125.15 L137.57,124.61 L137.72,124.06 L137.86,123.51 L138.00,122.97 L138.14,122.42 L138.29,121.87 L138.43,121.33 L138.57,120.78 L138.71,120.23 L138.86,119.68 L139.00,119.14 L139.14,118.59 L139.28,118.04 L139.43,117.50 L139.57,116.95 L139.71,116.40 L139.85,115.85 L140.00,115.31 L140.14,114.76 L140.28,114.21 L140.42,113.66 L140.56,113.12 L140.70,112.57 L140.84,112.02 L140.99,111.47 L141.13,110.93 L141.27,110.38 L141.41,109.83 L141.55,109.28 L141.69,108.73 L141.83,108.18 L141.97,107.63 L142.11,107.09 L142.24,106.54 L142.38,105.99 L142.52,105.44 L142.66,104.89 L142.80,104.34 L142.93,103.79 L143.07,103.24 L143.21,102.69 L143.34,102.14 L143.48,101.59 L143.61,101.04 L143.75,100.49 L143.88,99.94 L144.02,99.38 L144.15,98.83 L144.28,98.28 L144.42,97.73 L144.55,97.18 L144.68,96.62 L144.81,96.07 L144.94,95.52 L145.07,94.97 L145.20,94.41 L145.33,93.86 L145.46,93.30 L145.59,92.75 L145.72,92.20 L145.85,91.64 L145.97,91.09 L146.10,90.53 L146.22,89.98 L146.35,89.42 L146.48,88.87 L146.60,88.31 L146.72,87.76 L146.85,87.20 L146.97,86.65 L147.09,86.09 L147.22,85.53 L147.34,84.98 L147.46,84.42 L147.58,83.87 L147.70,83.31 L147.82,82.76 L147.94,82.20 L148.06,81.65 L148.18,81.09 L148.30,80.54 L148.42,79.98 L148.53,79.43 L148.65,78.87 L148.77,78.32 L148.89,77.76 L149.00,77.21 L149.12,76.65 L149.24,76.10 L149.35,75.55 L149.47,74.99 L149.58,74.44 L149.70,73.89 L149.81,73.34 L149.93,72.78 L150.04,72.23 L150.15,71.68 L150.27,71.13 L150.38,70.58 L150.49,70.03 L150.61,69.48 L150.72,68.93 L150.83,68.38 L150.94,67.83 L151.06,67.28 L151.17,66.74 L151.28,66.19 L151.39,65.64 L151.50,65.10 L151.61,64.55 L151.73,64.00 L151.84,63.46 L151.95,62.91 L152.07,62.37 L152.18,61.82 L152.30,61.27 L152.41,60.73 L152.53,60.18 L152.65,59.63 L152.77,59.08 L152.89,58.53 L153.01,57.98 L153.14,57.43 L153.27,56.88 L153.39,56.32 L153.52,55.77 L153.66,55.21 L153.79,54.66 L153.93,54.10 L154.07,53.54 L154.21,52.98 L154.35,52.42 L154.50,51.85 L154.65,51.28 L154.81,50.72 L154.96,50.15 L155.12,49.57 L155.29,49.00 L155.45,48.42 L155.62,47.84 L155.80,47.27 L155.99,46.69 L156.19,46.12 L156.40,45.57 L156.64,45.02 L156.90,44.49 L157.18,43.99 L157.50,43.50 L157.85,43.04 L158.23,42.61 L158.64,42.22 L159.07,41.89 L159.52,41.62 L159.98,41.42 L160.45,41.31 L160.92,41.30 L161.38,41.39 L161.83,41.58 L162.27,41.85 L162.70,42.17 L163.11,42.54 L163.49,42.94 L163.86,43.35 L164.20,43.78 L164.52,44.22 L164.82,44.67 L165.11,45.14 L165.37,45.62 L165.62,46.10 L165.86,46.60 L166.08,47.11 L166.29,47.63 L166.48,48.15 L166.67,48.68 L166.85,49.22 L167.02,49.76 L167.18,50.31 L167.33,50.86 L167.49,51.41 L167.63,51.97 L167.78,52.53 L167.92,53.09 L168.07,53.65 L168.21,54.21 L168.35,54.77 L168.50,55.32 L168.65,55.88 L168.79,56.44 L168.94,56.99 L169.09,57.55 L169.24,58.11 L169.38,58.66 L169.53,59.22 L169.68,59.77 L169.84,60.32 L169.99,60.88 L170.14,61.43 L170.29,61.98 L170.44,62.53 L170.60,63.08 L170.75,63.63 L170.91,64.18 L171.06,64.73 L171.22,65.28 L171.38,65.83 L171.54,66.38 L171.69,66.93 L171.85,67.48 L172.01,68.02 L172.17,68.57 L172.33,69.12 L172.49,69.66 L172.66,70.21 L172.82,70.75 L172.98,71.30 L173.15,71.84 L173.31,72.39 L173.47,72.93 L173.64,73.48 L173.81,74.02 L173.97,74.56 L174.14,75.10 L174.31,75.64 L174.48,76.19 L174.65,76.73 L174.82,77.27 L174.99,77.81 L175.16,78.35 L175.33,78.89 L175.50,79.43 L175.68,79.97 L175.85,80.50 L176.02,81.04 L176.20,81.58 L176.37,82.12 L176.55,82.66 L176.73,83.19 L176.90,83.73 L177.08,84.27 L177.26,84.80 L177.44,85.34 L177.62,85.87 L177.80,86.41 L177.98,86.94 L178.16,87.48 L178.34,88.01 L178.53,88.55 L178.71,89.08 L178.89,89.62 L179.08,90.15 L179.26,90.68 L179.45,91.21 L179.64,91.75 L179.82,92.28 L180.01,92.81 L180.20,93.34 L180.39,93.88 L180.58,94.41 L180.77,94.94 L180.96,95.47 L181.15,96.00 L181.34,96.53 L181.53,97.06 L181.73,97.59 L181.92,98.12 L182.11,98.65 L182.31,99.18 L182.50,99.71 L182.70,100.24 L182.90,100.77 L183.09,101.30 L183.29,101.82 L183.49,102.35 L183.69,102.88 L183.89,103.41 L184.09,103.94 L184.29,104.47 L184.49,104.99 L184.69,105.52 L184.89,106.05 L185.10,106.57 L185.30,107.10 L185.51,107.63 L185.71,108.16 L185.92,108.68 L186.12,109.21 L186.33,109.74 L186.54,110.26 L186.75,110.79 L186.95,111.31 L187.16,111.84 L187.37,112.37 L187.58,112.89 L187.79,113.42 L188.01,113.94 L188.22,114.47 L188.43,114.99 L188.64,115.52 L188.86,116.05 L189.07,116.57 L189.29,117.10 L189.50,117.62 L189.72,118.15 L189.94,118.67 L190.15,119.20 L190.37,119.72 L190.59,120.25 L190.81,120.77 L191.02,121.30 L191.24,121.82 L191.46,122.35 L191.68,122.87 L191.90,123.40 L192.12,123.92 L192.34,124.45 L192.56,124.97 L192.78,125.50 L193.00,126.02 L193.23,126.55 L193.45,127.07 L193.67,127.60 L193.89,128.12 L194.11,128.65 L194.33,129.17 L194.55,129.70 L194.78,130.23 L195.00,130.75 L195.22,131.28 L195.44,131.80 L195.66,132.33 L195.89,132.85 L196.11,133.38 L196.33,133.91 L196.55,134.43 L196.78,134.96 L197.00,135.48 L197.23,136.01 L197.46,136.53 L197.69,137.05 L197.93,137.56 L198.17,138.07 L198.42,138.58 L198.68,139.08 L198.94,139.58 L199.22,140.07 L199.50,140.55 L199.79,141.03 L200.09,141.50 L200.40,141.96 L200.73,142.41 L201.07,142.85 L201.42,143.29 L201.78,143.71 L202.16,144.12 L202.56,144.52 L202.97,144.91 L203.40,145.29 L203.85,145.65 L204.32,146.00 L204.80,146.33 L205.29,146.64 L205.80,146.93 L206.32,147.18 L206.84,147.41 L207.37,147.60 L207.91,147.76 L208.45,147.88 L209.00,147.95 L209.54,147.98 L210.08,147.96 L210.63,147.91 L211.17,147.81 L211.71,147.69 L212.25,147.54 L212.80,147.38 L213.35,147.20 L213.90,147.03 L214.46,146.84 L215.02,146.66 L215.58,146.48 L216.14,146.30 L216.70,146.13 L217.26,145.96 L217.83,145.80 L218.39,145.65 L218.95,145.52 L219.52,145.40 L220.08,145.29 L220.63,145.21 L221.19,145.15 L221.75,145.11 L222.30,145.09 L222.84,145.11 L223.39,145.14 L223.93,145.21 L224.47,145.29 L225.00,145.40 L225.53,145.53 L226.06,145.68 L226.58,145.85 L227.10,146.04 L227.61,146.25 L228.12,146.47 L228.63,146.71 L229.13,146.97 L229.63,147.24 L230.13,147.53 L230.62,147.82 L231.11,148.13 L231.59,148.45 L232.07,148.78 L232.54,149.12 L233.01,149.47 L233.47,149.82 L233.93,150.18 L234.39,150.55 L234.84,150.92 L235.29,151.29 L235.73,151.67 L236.16,152.05 L236.60,152.43 L237.02,152.81 L237.45,153.20 L237.86,153.60 L238.27,153.99 L238.68,154.39 L239.09,154.79 L239.48,155.20 L239.88,155.61 L240.26,156.02 L240.65,156.44 L241.03,156.86 L241.40,157.28 L241.77,157.70 L242.13,158.13 L242.49,158.57 L242.85,159.00 L243.19,159.44 L243.54,159.88 L243.88,160.33 L244.21,160.78 L244.54,161.23 L244.87,161.69 L245.19,162.15 L245.50,162.61 L245.82,163.08 L246.12,163.55 L246.43,164.02 L246.73,164.49 L247.03,164.97 L247.32,165.45 L247.61,165.93 L247.90,166.41 L248.18,166.90 L248.46,167.39 L248.74,167.88 L249.02,168.37 L249.29,168.86 L249.57,169.36 L249.84,169.85 L250.11,170.35 L250.37,170.85 L250.64,171.35 L250.90,171.85 L251.16,172.36 L251.42,172.86 L251.69,173.37 L251.94,173.87 L252.20,174.38 L252.46,174.89 L252.72,175.39 L252.98,175.90 L253.24,176.41 L253.50,176.92 L253.75,177.43 L254.01,177.94 L254.27,178.45 L254.53,178.96 L254.79,179.46 L255.06,179.97 L255.32,180.48 L255.59,180.99 L255.85,181.49 L256.12,182.00 L256.39,182.50 L256.66,183.01 L256.94,183.51 L257.21,184.01 L257.49,184.51 L257.77,185.01 L258.06,185.51 L258.35,186.00 L258.64,186.49 L258.94,186.98 L259.24,187.46 L259.54,187.93 L259.85,188.41 L260.17,188.87 L260.49,189.33 L260.82,189.78 L261.16,190.23 L261.50,190.67 L261.85,191.09 L262.21,191.51 L262.58,191.92 L262.95,192.32 L263.34,192.71 L263.73,193.09 L264.13,193.46 L264.55,193.81 L264.97,194.16 L265.40,194.48 L265.85,194.80 L266.30,195.10 L266.77,195.39 L267.25,195.66 L267.74,195.91 L268.25,196.15 L268.77,196.38 L269.29,196.59 L269.83,196.79 L270.37,196.98 L270.92,197.17 L271.48,197.35 L272.03,197.52 L272.59,197.70 L273.15,197.88 L273.70,198.06 L274.25,198.25 L274.80,198.44 L275.34,198.65 L275.87,198.86 L276.39,199.10 L276.89,199.34 L277.39,199.60 L277.88,199.88 L278.36,200.17 L278.83,200.47 L279.29,200.78 L279.74,201.11 L280.18,201.45 L280.61,201.80 L281.04,202.16 L281.45,202.53 L281.86,202.92 L282.26,203.31 L282.66,203.71 L283.04,204.13 L283.42,204.55 L283.80,204.98 L284.16,205.42 L284.52,205.86 L284.88,206.31 L285.23,206.77 L285.57,207.24 L285.92,207.71 L286.25,208.19 L286.58,208.67 L286.91,209.15 L287.24,209.64 L287.57,210.13 L287.89,210.62 L288.22,211.10 L288.54,211.59 L288.87,212.08 L289.20,212.56 L289.53,213.03 L289.87,213.50 L290.21,213.97 L290.55,214.43 L290.90,214.88 L291.26,215.32 L291.63,215.75 L292.00,216.17 L292.38,216.58 L292.77,216.97 L293.17,217.36 L293.57,217.73 L293.99,218.09 L294.41,218.43 L294.84,218.77 L295.28,219.09 L295.73,219.41 L296.18,219.71 L296.64,220.00 L297.11,220.29 L297.58,220.56 L298.06,220.82 L298.55,221.07 L299.04,221.32 L299.54,221.55 L300.04,221.78 L300.55,222.00 L301.07,222.21 L301.59,222.41 L302.11,222.60 L302.64,222.79 L303.17,222.97 L303.71,223.14 L304.25,223.30 L304.79,223.46 L305.34,223.61 L305.89,223.76 L306.45,223.90 L307.00,224.03 L307.56,224.16 L308.12,224.29 L308.69,224.40 L309.25,224.52 L309.82,224.63 L310.39,224.74 L310.96,224.84 L311.53,224.94 L312.10,225.03 L312.67,225.12 L313.24,225.21 L313.81,225.30 L314.38,225.38 L314.96,225.46 L315.53,225.54 L316.10,225.62 L316.67,225.70 L317.23,225.77 L317.80,225.85 L318.37,225.92 L318.93,225.99 L319.50,226.06 L320.06,226.13 L320.62,226.20 L321.18,226.27 L321.75,226.33 L322.31,226.40 L322.87,226.46 L323.43,226.52 L323.98,226.58 L324.54,226.64 L325.10,226.70 L325.66,226.76 L326.22,226.82 L326.77,226.87 L327.33,226.93 L327.89,226.98 L328.45,227.03 L329.00,227.09 L329.56,227.14 L330.12,227.19 L330.67,227.23 L331.23,227.28 L331.79,227.33 L332.34,227.38 L332.90,227.42 L333.46,227.46 L334.02,227.51 L334.58,227.55 L335.14,227.59 L335.70,227.63 L336.26,227.67 L336.82,227.71 L337.38,227.75 L337.95,227.79 L338.51,227.83 L339.08,227.86 L339.64,227.90 L340.21,227.93 L340.78,227.97 L341.35,228.00 L341.92,228.03 L342.49,228.06 L343.06,228.10 L343.63,228.13 L344.21,228.16 L344.78,228.19 L345.36,228.22 L345.94,228.24 L346.52,228.27" stroke="#1272b2" stroke-width="1"/>
<rect x="50.7" y="9.5" width="295.90000000000003" height="227.9" fill="none" stroke="#000" stroke-width="1.1"/>
<line x1="50.7" y1="237.4" x2="50.7" y2="233.70000000000002" stroke="#000" stroke-width="1" />
<line x1="50.7" y1="9.5" x2="50.7" y2="13.2" stroke="#000" stroke-width="1" />
<line x1="109.88000000000001" y1="237.4" x2="109.88000000000001" y2="233.70000000000002" stroke="#000" stroke-width="1" />
<line x1="109.88000000000001" y1="9.5" x2="109.88000000000001" y2="13.2" stroke="#000" stroke-width="1" />
<line x1="169.06" y1="237.4" x2="169.06" y2="233.70000000000002" stroke="#000" stroke-width="1" />
<line x1="169.06" y1="9.5" x2="169.06" y2="13.2" stroke="#000" stroke-width="1" />
<line x1="228.24" y1="237.4" x2="228.24" y2="233.70000000000002" stroke="#000" stroke-width="1" />
<line x1="228.24" y1="9.5" x2="228.24" y2="13.2" stroke="#000" stroke-width="1" />
<line x1="287.42" y1="237.4" x2="287.42" y2="233.70000000000002" stroke="#000" stroke-width="1" />
<line x1="287.42" y1="9.5" x2="287.42" y2="13.2" stroke="#000" stroke-width="1" />
<line x1="346.6" y1="237.4" x2="346.6" y2="233.70000000000002" stroke="#000" stroke-width="1" />
<line x1="346.6" y1="9.5" x2="346.6" y2="13.2" stroke="#000" stroke-width="1" />
<line x1="50.7" y1="237.4" x2="54.400000000000006" y2="237.4" stroke="#000" stroke-width="1" />
<line x1="50.7" y1="191.82" x2="54.400000000000006" y2="191.82" stroke="#000" stroke-width="1" />
<line x1="50.7" y1="146.24" x2="54.400000000000006" y2="146.24" stroke="#000" stroke-width="1" />
<line x1="50.7" y1="100.65999999999997" x2="54.400000000000006" y2="100.65999999999997" stroke="#000" stroke-width="1" />
<line x1="50.7" y1="55.079999999999984" x2="54.400000000000006" y2="55.079999999999984" stroke="#000" stroke-width="1" />
<line x1="50.7" y1="9.5" x2="54.400000000000006" y2="9.5" stroke="#000" stroke-width="1" />
<line x1="346.6" y1="237.4" x2="342.90000000000003" y2="237.4" stroke="#000" stroke-width="1" />
<line x1="346.6" y1="199.41666666666669" x2="342.90000000000003" y2="199.41666666666669" stroke="#000" stroke-width="1" />
<line x1="346.6" y1="161.43333333333334" x2="342.90000000000003" y2="161.43333333333334" stroke="#000" stroke-width="1" />
<line x1="346.6" y1="123.45" x2="342.90000000000003" y2="123.45" stroke="#000" stroke-width="1" />
<line x1="346.6" y1="85.46666666666667" x2="342.90000000000003" y2="85.46666666666667" stroke="#000" stroke-width="1" />
<line x1="346.6" y1="47.48333333333335" x2="342.90000000000003" y2="47.48333333333335" stroke="#000" stroke-width="1" />
<line x1="346.6" y1="9.5" x2="342.90000000000003" y2="9.5" stroke="#000" stroke-width="1" />
<text x="52.7" y="250" font-size="14.1" text-anchor="middle">0</text>
<text x="111.9" y="250" font-size="14.1" text-anchor="middle">2</text>
<text x="171.1" y="250" font-size="14.1" text-anchor="middle">4</text>
<text x="230.2" y="250" font-size="14.1" text-anchor="middle">6</text>
<text x="289.4" y="250" font-size="14.1" text-anchor="middle">8</text>
<text x="348.6" y="250" font-size="14.1" text-anchor="middle">10</text>
<text x="46.0" y="242.2" font-size="14.1" text-anchor="end">0</text>
<text x="46.0" y="196.6" font-size="14.1" text-anchor="end">0.2</text>
<text x="46.0" y="151.0" font-size="14.1" text-anchor="end">0.4</text>
<text x="46.0" y="105.5" font-size="14.1" text-anchor="end">0.6</text>
<text x="46.0" y="59.9" font-size="14.1" text-anchor="end">0.8</text>
<text x="46.0" y="14.3" font-size="14.1" text-anchor="end">1</text>
<text x="355.5" y="242.4" font-size="14.1" text-anchor="start">0</text>
<text x="355.5" y="204.4" font-size="14.1" text-anchor="start">0.2</text>
<text x="355.5" y="166.4" font-size="14.1" text-anchor="start">0.4</text>
<text x="355.5" y="128.4" font-size="14.1" text-anchor="start">0.6</text>
<text x="355.5" y="90.5" font-size="14.1" text-anchor="start">0.8</text>
<text x="355.5" y="52.5" font-size="14.1" text-anchor="start">1</text>
<text x="355.5" y="14.5" font-size="14.1" text-anchor="start">1.2</text>

<text x="297.3" y="23.3" font-size="11.25" text-anchor="end">f(E) at t=0</text>
<text x="297.3" y="34.449999999999996" font-size="11.25" text-anchor="end">f(E) at t=0.5s</text>
<text x="297.3" y="45.699999999999996" font-size="11.25" text-anchor="end">f(E) at t=1.0s</text>
<text x="297.3" y="54.8" font-size="11.25" text-anchor="end">B(GT)<tspan font-size="9" dy="4.1" stroke-width="0.08">GXPF1J</tspan></text>
<text x="297.3" y="66.6" font-size="11.25" text-anchor="end">B(GT)<tspan font-size="9" dy="4.1" stroke-width="0.08">KBF</tspan></text>
<line x1="304" x2="335" y1="19.0" y2="19.0" stroke="#9400d3" stroke-width="2"/>
<line x1="304" x2="335" y1="30.15" y2="30.15" stroke="#ffa500" stroke-width="2" stroke-dasharray="8.8 4.0"/>
<line x1="304" x2="335" y1="41.4" y2="41.4" stroke="#56b4e9" stroke-width="2"/>
<line x1="304" x2="335" y1="52.9" y2="52.9" stroke="#ff1010" stroke-width="1"/>
<line x1="304" x2="335" y1="64.5" y2="64.5" stroke="#1272b2" stroke-width="1"/>

<text x="198.4" y="262.8" font-size="17" text-anchor="middle">Energy [MeV]</text>
<text transform="translate(394.2,123.5) rotate(-90)" font-size="17.1" text-anchor="middle">B(GT)</text>
<text transform="translate(11.9,123.8) rotate(-90)" font-size="17" text-anchor="middle">Fermi Distribution Function</text>
</svg>
</body></html>
